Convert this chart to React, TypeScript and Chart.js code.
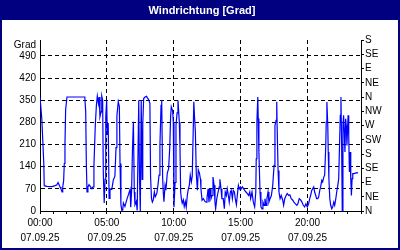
import React, { useEffect, useRef } from "react";
import { Chart, registerables } from "chart.js";

Chart.register(...registerables);

const title = "Windrichtung [Grad]";
const unitLabel = "Grad";
const dateLabel = "07.09.25";
const compassLabels = ["N", "NE", "E", "SE", "S", "SW", "W", "NW", "N", "NE", "E", "SE", "S"];

// minutes after midnight
const minutes = [
  0, 8, 17, 19, 31, 54, 67, 75, 81, 90,
  94, 99, 102, 106, 109, 112, 115, 121, 201, 205,
  208, 211, 215, 220, 227, 233, 238, 242, 248, 253,
  257, 262, 265, 269, 274, 277, 281, 284, 288, 292,
  295, 299, 302, 306, 310, 314, 322, 329, 336, 341,
  345, 351, 356, 359, 363, 367, 371, 374, 381, 389,
  396, 404, 407, 411, 415, 419, 423, 426, 432, 436,
  443, 446, 450, 454, 458, 461, 465, 471, 478, 481,
  487, 493, 496, 500, 504, 508, 513, 517, 524, 529,
  534, 538, 543, 546, 550, 553, 556, 561, 565, 571,
  577, 582, 586, 589, 595, 598, 601, 606, 610, 615,
  619, 625, 628, 631, 634, 638, 643, 647, 652, 656,
  661, 665, 670, 674, 679, 683, 690, 693, 697, 701,
  706, 710, 715, 720, 722, 727, 733, 739, 745, 749,
  754, 758, 763, 767, 772, 776, 781, 785, 788, 793,
  799, 804, 807, 812, 816, 822, 827, 831, 836, 840,
  845, 849, 854, 858, 863, 867, 872, 876, 881, 885,
  890, 894, 899, 903, 908, 912, 918, 924, 930, 936,
  941, 945, 951, 957, 963, 968, 970, 973, 977, 979,
  982, 987, 991, 996, 1000, 1005, 1009, 1014, 1018, 1023,
  1027, 1032, 1038, 1044, 1050, 1054, 1059, 1062, 1064, 1068,
  1072, 1077, 1082, 1089, 1093, 1098, 1104, 1109, 1116, 1121,
  1127, 1134, 1139, 1145, 1152, 1157, 1163, 1170, 1175, 1181,
  1187, 1193, 1199, 1205, 1210, 1214, 1219, 1223, 1228, 1232,
  1237, 1241, 1246, 1250, 1255, 1259, 1264, 1268, 1273, 1277,
  1282, 1284, 1287, 1291, 1293, 1296, 1300, 1304, 1309, 1313,
  1318, 1322, 1327, 1331, 1336, 1340, 1344, 1347, 1350, 1353,
  1356, 1359, 1362, 1365, 1368, 1371, 1374, 1377, 1382, 1385,
  1388, 1391, 1394, 1397, 1400, 1403, 1409, 1421, 1427,
];

// wind direction in degrees
const direction = [
  360, 293, 150, 80, 78, 77, 80, 82, 90, 76,
  70, 60, 76, 95, 150, 210, 320, 360, 360, 313,
  144, 60, 76, 83, 76, 70, 76, 144, 270, 334,
  363, 340, 360, 298, 313, 363, 350, 120, 25, 100,
  298, 350, 240, 278, 40, 70, 68, 98, 110, 200,
  300, 345, 330, 150, 20, 2, 3, 25, 14, 35,
  50, 68, 12, 65, 200, 282, 60, 20, 30, 2,
  350, 120, 0, 350, 100, 275, 355, 360, 362, 358,
  352, 340, 110, 40, 28, 35, 60, 45, 55, 81,
  113, 207, 334, 350, 108, 60, 29, 81, 66, 120,
  134, 200, 300, 329, 316, 280, 12, 90, 270, 310,
  350, 280, 200, 60, 40, 25, 35, 14, 30, 12,
  50, 68, 82, 113, 92, 110, 345, 300, 250, 120,
  66, 130, 120, 100, 70, 34, 39, 31, 28, 39,
  70, 28, 70, 39, 49, 107, 81, 28, 7, 39,
  60, 76, 100, 70, 39, 39, 7, 60, 49, 70,
  49, 28, 60, 65, 39, 65, 60, 39, 20, 49,
  81, 70, 76, 70, 76, 72, 65, 60, 55, 49,
  60, 39, 60, 28, 13, 60, 165, 281, 360, 292,
  186, 60, 13, 7, 28, 18, 39, 18, 39, 60,
  28, 39, 49, 81, 144, 270, 286, 345, 260, 128,
  60, 39, 49, 34, 18, 39, 49, 55, 49, 51,
  39, 34, 28, 23, 18, 23, 39, 34, 28, 18,
  13, 23, 13, 23, 39, 49, 65, 70, 76, 60,
  49, 39, 39, 44, 65, 76, 97, 92, 107, 113,
  207, 281, 344, 270, 186, 102, 39, 18, 7, 13,
  28, 18, 39, 60, 81, 102, 216, 302, 360, 218,
  0, 270, 302, 250, 186, 291, 270, 207, 302, 239,
  123, 186, 102, 49, 102, 118, 118, 121, 120,
];

const NAVY = "#000080";
const FONT = "'Liberation Sans', Arial, sans-serif";

const framePlugin = {
  id: "frame",
  beforeDraw(chart: any) {
    const { ctx, width, height } = chart;
    ctx.save();
    ctx.fillStyle = NAVY;
    ctx.fillRect(0, 0, width, height);
    ctx.fillStyle = "#ffffff";
    ctx.fillRect(2, 20, width - 4, height - 22);
    ctx.font = `bold 11px ${FONT}`;
    ctx.fillStyle = "#ffffff";
    ctx.textAlign = "center";
    ctx.textBaseline = "middle";
    ctx.fillText(title, 202, 10.5);
    ctx.restore();
  },
  afterDraw(chart: any) {
    const { ctx } = chart;
    const left = chart.chartArea.left;
    ctx.save();
    ctx.font = `10px ${FONT}`;
    ctx.fillStyle = "#000000";
    ctx.textAlign = "right";
    ctx.textBaseline = "middle";
    ctx.fillText(unitLabel, left - 4, 45);
    ctx.restore();
  },
};

function pad(n: number) {
  return n < 10 ? "0" + n : String(n);
}

export default function App() {
  const ref = useRef<HTMLCanvasElement>(null);

  useEffect(() => {
    if (!ref.current) return;
    const chart = new Chart(ref.current, {
      type: "line",
      data: {
        datasets: [
          {
            data: minutes.map((m, i) => ({ x: m, y: direction[i] })),
            borderColor: "#0000ff",
            borderWidth: 1.2,
            pointRadius: 0,
            tension: 0,
            fill: false,
          },
        ],
      },
      options: {
        animation: false,
        responsive: false,
        devicePixelRatio: 1,
        layout: { padding: { top: 40, left: 0, right: 0, bottom: 0 } },
        plugins: { legend: { display: false }, title: { display: false }, tooltip: { enabled: false } },
        scales: {
          x: {
            type: "linear",
            min: 0,
            max: 1440,
            afterFit: (s: any) => { s.height = 39; },
            ticks: {
              stepSize: 60,
              autoSkip: false,
              maxRotation: 0,
              padding: 2,
              color: "#000",
              font: { family: FONT, size: 10, lineHeight: 1.5 },
              callback: (v: any) => {
                const n = Number(v);
                if (n % 300 === 0 && n < 1440) return [pad(n / 60) + ":00", dateLabel];
                return "";
              },
            },
            grid: {
              color: (c: any) => {
                const v = c.tick ? c.tick.value : 0;
                return v % 300 === 0 && v > 0 && v < 1440 ? "#000" : "rgba(0,0,0,0)";
              },
              tickColor: "#000",
              tickLength: 3,
              tickBorderDash: [],
              lineWidth: 1,
            },
            border: { display: true, color: "#000", width: 1, dash: [4, 3] },
          },
          y: {
            position: "left",
            min: 0,
            max: 540,
            afterFit: (s: any) => { s.width = 40; },
            ticks: {
              stepSize: 70,
              autoSkip: false,
              padding: 4,
              color: "#000",
              font: { family: FONT, size: 10 },
              callback: (v: any) => (Number(v) <= 490 ? String(v) : ""),
            },
            grid: {
              color: (c: any) => {
                const v = c.tick ? c.tick.value : 0;
                return v > 0 && v < 540 ? "#000" : "rgba(0,0,0,0)";
              },
              drawTicks: false,
              lineWidth: 1,
            },
            border: { display: true, color: "#000", width: 1, dash: [4, 3] },
          },
          y2: {
            position: "right",
            min: 0,
            max: 540,
            afterFit: (s: any) => { s.width = 39; },
            ticks: {
              stepSize: 45,
              autoSkip: false,
              padding: 1,
              color: "#000",
              font: { family: FONT, size: 10 },
              callback: (v: any) => compassLabels[Math.round(Number(v) / 45)] ?? "",
            },
            grid: {
              drawOnChartArea: false,
              color: "#000",
              tickColor: "#000",
              tickLength: 3,
            },
            border: { display: true, color: "#000", width: 1 },
          },
        },
      },
      plugins: [framePlugin],
    });
    return () => chart.destroy();
  }, []);

  return (
    <div style={{ position: "absolute", left: 0, top: 0, width: 400, height: 250 }}>
      <canvas ref={ref} width={400} height={250} style={{ display: "block", width: 400, height: 250 }} />
    </div>
  );
}
